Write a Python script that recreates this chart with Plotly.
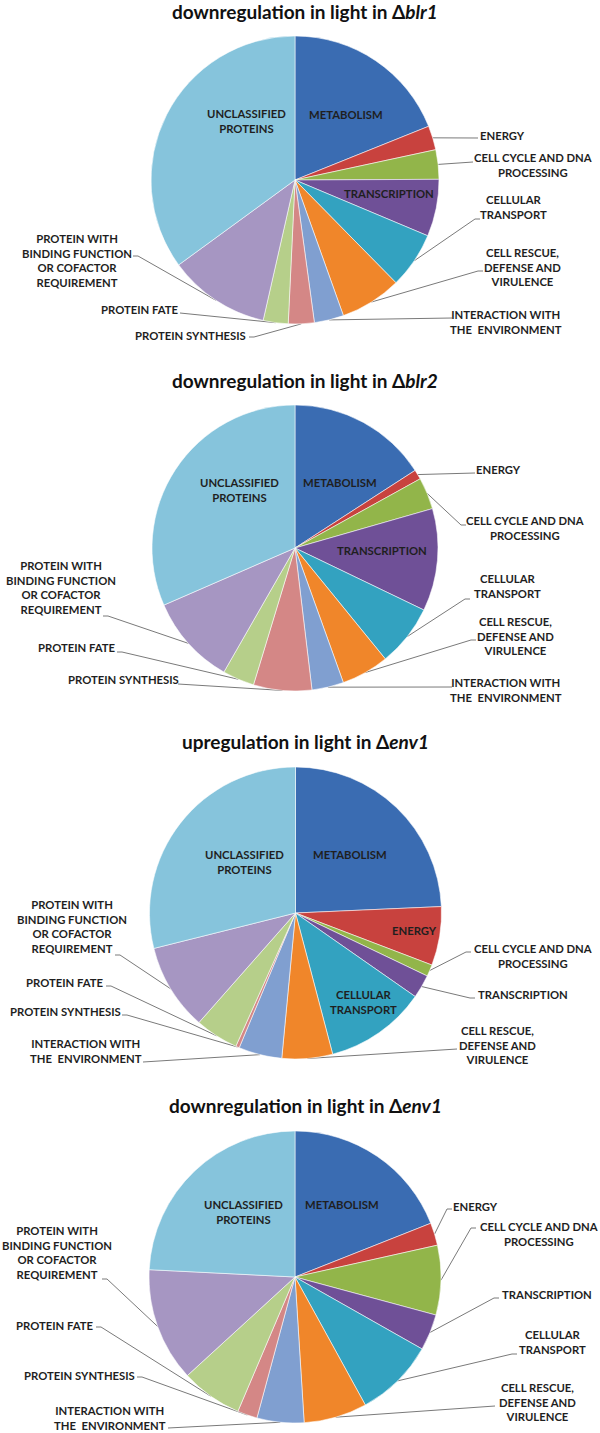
import math
import plotly.graph_objects as go

W, H = 600, 1433

categories = ["METABOLISM", "ENERGY", "CELL CYCLE AND DNA PROCESSING", "TRANSCRIPTION",
              "CELLULAR TRANSPORT", "CELL RESCUE, DEFENSE AND VIRULENCE",
              "INTERACTION WITH THE ENVIRONMENT", "PROTEIN SYNTHESIS", "PROTEIN FATE",
              "PROTEIN WITH BINDING FUNCTION OR COFACTOR REQUIREMENT", "UNCLASSIFIED PROTEINS"]

# text of the labels as they are broken in the figure
label_lines = ["METABOLISM", "ENERGY", "CELL CYCLE AND DNA<br>PROCESSING", "TRANSCRIPTION",
               "CELLULAR<br>TRANSPORT", "CELL RESCUE,<br>DEFENSE AND<br>VIRULENCE",
               "INTERACTION WITH<br>THE  ENVIRONMENT", "PROTEIN SYNTHESIS", "PROTEIN FATE",
               "PROTEIN WITH<br>BINDING FUNCTION<br>OR COFACTOR<br>REQUIREMENT",
               "UNCLASSIFIED<br>PROTEINS"]

titles = ["downregulation in light in Δ<i>blr1</i>",
          "downregulation in light in Δ<i>blr2</i>",
          "upregulation in light in Δ<i>env1</i>",
          "downregulation in light in Δ<i>env1</i>"]

# share of genes per category (%)
down_blr1 = [18.9, 2.7, 3.3, 6.4, 6.3, 6.9, 3.3, 2.9, 2.8, 11.4, 35.0]
down_blr2 = [15.9, 1.1, 3.6, 11.6, 7.0, 5.4, 3.6, 6.6, 3.6, 10.2, 31.6]
up_env1 = [24.3, 6.5, 1.3, 2.6, 11.2, 5.6, 4.8, 0.4, 4.8, 9.6, 28.9]
down_env1 = [19.0, 2.5, 7.7, 4.0, 8.8, 7.0, 5.2, 2.2, 6.8, 12.6, 24.2]

colors = ["#3A6CB2", "#C8423E", "#92B54A", "#6F5097", "#33A2C0", "#F0862A",
          "#809FD0", "#D48786", "#B6CF8A", "#A696C2", "#86C4DC"]

# layout of each panel: pie centre, radius, title y, label centres, leader-line ends
panels = [
    dict(values=down_blr1, c=(295, 180), r=144, ty=11,
         pos=[(346, 114), (502, 135), (533, 165), (389, 193), (513, 207), (522, 267),
              (506, 322), (190, 335), (140, 309), (77, 260), (246, 121)],
         ends=[None, (478, 138), (473, 162), None, (480, 219), (483, 271),
               (452, 318), (249, 337), (180, 313), (133, 256), None]),
    dict(values=down_blr2, c=(295, 548), r=143, ty=380,
         pos=[(340, 482), (498, 469), (525, 528), (382, 550), (507, 586), (515, 636),
              (506, 690), (123, 679), (77, 647), (61, 587), (239, 490)],
         ends=[None, (475, 473), (466, 525), None, (470, 599), (476, 640),
               (452, 687), (178, 684), (117, 652), (103, 616), None]),
    dict(values=up_env1, c=(295.5, 913), r=146, ty=741,
         pos=[(350, 854), (414, 930), (533, 956), (523, 994), (363, 1002), (497, 1045),
              (86, 1051), (65, 1011), (65, 982), (72, 926), (244, 862)],
         ends=[None, None, (471, 952), (475, 998), None, (457, 1049),
               (143, 1062), (122, 1015), (106, 986), (115, 955), None]),
    dict(values=down_env1, c=(295, 1277), r=146, ty=1105,
         pos=[(342, 1204), (475, 1206), (539, 1234), (547, 1294), (552, 1342), (537, 1402),
              (110, 1418), (79, 1375), (55, 1325), (57, 1252), (243, 1212)],
         ends=[None, (452, 1209), (476, 1228), (499, 1298), (517, 1354), (495, 1406),
               (168, 1428), (137, 1377), (96, 1327), (102, 1279), None]),
]

fig = go.Figure()
annotations = []

for p, title in zip(panels, titles):
    cx, cy = p["c"]
    r = p["r"]
    fig.add_trace(go.Pie(
        labels=categories, values=p["values"], sort=False, direction="clockwise",
        rotation=0, textinfo="none", hoverinfo="label+percent",
        marker=dict(colors=colors, line=dict(color="rgba(255,255,255,0.55)", width=1)),
        domain=dict(x=[(cx - r) / W, (cx + r) / W], y=[1 - (cy + r) / H, 1 - (cy - r) / H]),
        showlegend=False))

    annotations.append(dict(x=305, y=p["ty"], xref="x", yref="y", text="<b>" + title + "</b>",
                            showarrow=False, font=dict(size=19, color="#111111")))

    total = sum(p["values"])
    cum = 0
    lx, ly = [], []
    for i, v in enumerate(p["values"]):
        mid = math.radians(360 * (cum + v / 2) / total)
        cum += v
        tx, ty = p["pos"][i]
        annotations.append(dict(x=tx, y=ty, xref="x", yref="y", text="<b>" + label_lines[i] + "</b>",
                                showarrow=False, align="center",
                                font=dict(size=11.3, color="#1F1F1F")))
        if p["ends"][i] is None:
            continue
        ex, ey = p["ends"][i]
        side = 1 if ex > cx else -1
        sx, sy = cx + r * math.sin(mid), cy - r * math.cos(mid)
        lx += [sx, ex - 5 * side, ex, None]
        ly += [sy, ey, ey, None]
    fig.add_trace(go.Scatter(x=lx, y=ly, mode="lines", line=dict(color="#7A7A7A", width=1),
                             hoverinfo="skip", showlegend=False, cliponaxis=False))

fig.update_layout(
    width=W, height=H, margin=dict(l=0, r=0, t=0, b=0),
    paper_bgcolor="white", plot_bgcolor="rgba(0,0,0,0)",
    font=dict(family="Lato, 'Open Sans', sans-serif"),
    xaxis=dict(range=[0, W], visible=False, fixedrange=True),
    yaxis=dict(range=[H, 0], visible=False, fixedrange=True),
    annotations=annotations,
)

# drop the default page margin so the figure sits at the top-left corner
fig.write_html("out.html", config={"displayModeBar": False},
               post_script="document.body.style.margin = '0';")
